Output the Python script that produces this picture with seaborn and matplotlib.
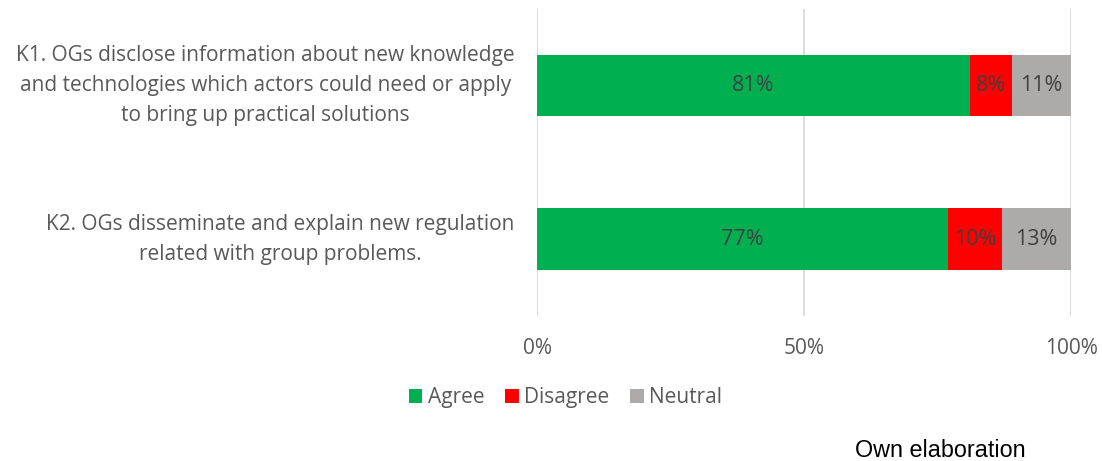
import numpy as np
import pandas as pd
import matplotlib
matplotlib.use("Agg")
import matplotlib.pyplot as plt
from matplotlib.patches import Patch
import seaborn as sns

# Survey statements and response shares (%)
categories = [
    "K1. OGs disclose information about new knowledge\nand technologies which actors could need or apply\nto bring up practical solutions",
    "K2. OGs disseminate and explain new regulation\nrelated with group problems.",
]
agree = [81, 77]
disagree = [8, 10]
neutral = [11, 13]
series_names = ["Agree", "Disagree", "Neutral"]
series_colors = ["#00B050", "#FF0000", "#AEAAAA"]
tick_values = [0, 50, 100]
tick_labels = ["0%", "50%", "100%"]

sns.set_theme(style="white")
plt.rcParams["font.family"] = ["Open Sans", "DejaVu Sans"]

text_color = "#595959"

fig = plt.figure(figsize=(11.02, 4.61), dpi=100)
ax = fig.add_axes([0.4873, 0.3145, 0.4846, 0.6666])

df = pd.DataFrame({"category": categories, "Agree": agree,
                   "Disagree": disagree, "Neutral": neutral})
df["cum_agree"] = df["Agree"]
df["cum_disagree"] = df["Agree"] + df["Disagree"]
df["cum_neutral"] = df["cum_disagree"] + df["Neutral"]

# Stacked bars: draw cumulative totals from the longest down
for col, color in zip(["cum_neutral", "cum_disagree", "cum_agree"],
                      series_colors[::-1]):
    sns.barplot(data=df, y="category", x=col, color=color, orient="h",
                width=0.4, ax=ax, saturation=1, edgecolor="none", linewidth=0)

# Segment value labels
for i in range(len(categories)):
    starts = [0, agree[i], agree[i] + disagree[i]]
    vals = [agree[i], disagree[i], neutral[i]]
    for s, v in zip(starts, vals):
        ax.text(s + v / 2, i, f"{v}%", ha="center", va="center",
                fontsize=15.5, color="#404040")

ax.set_xlim(0, 100)
ax.set_ylim(1.5, -0.5)
ax.set_xticks(tick_values)
ax.set_xticklabels(tick_labels, fontsize=15, color=text_color)
ax.tick_params(axis="x", length=0, pad=16)
ax.set_yticks(range(len(categories)))
ax.set_yticklabels(categories, fontsize=15, color=text_color,
                   ha="right", va="center", multialignment="center",
                   linespacing=1.58)
ax.tick_params(axis="y", length=0, pad=16)
ax.set_xlabel("")
ax.set_ylabel("")
for sp in ax.spines.values():
    sp.set_visible(False)
ax.xaxis.grid(True, color="#D9D9D9", linewidth=1.3)
ax.set_axisbelow(True)

handles = [Patch(facecolor=c, edgecolor="none") for c in series_colors]
fig.legend(handles, series_names, loc="center", bbox_to_anchor=(0.513, 0.137),
           ncol=3, frameon=False, fontsize=15, handlelength=0.66,
           handleheight=0.66, handletextpad=0.25, columnspacing=1.0,
           labelcolor=text_color)

fig.text(0.8534, 1 - 457 / 461, "Own elaboration", ha="center", va="baseline",
         fontsize=16.8, color="black", family="Liberation Sans")

fig.savefig("out.png", dpi=100)
